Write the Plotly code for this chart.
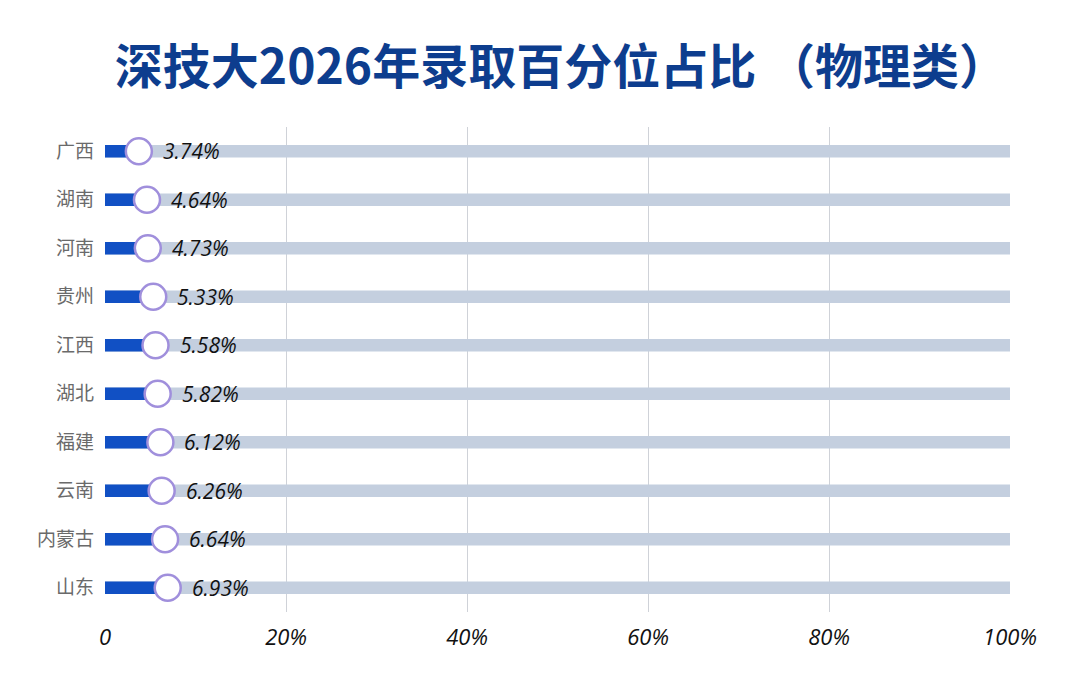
"""
深技大2026年录取百分位占比（物理类）- horizontal progress-style bar chart.
"""
import plotly.graph_objects as go

provinces = ["广西", "湖南", "河南", "贵州", "江西", "湖北", "福建", "云南", "内蒙古", "山东"]
percentiles = [3.74, 4.64, 4.73, 5.33, 5.58, 5.82, 6.12, 6.26, 6.64, 6.93]
full_scale = [100] * len(provinces)

tick_vals = [0, 20, 40, 60, 80, 100]
tick_text = ["0", "20%", "40%", "60%", "80%", "100%"]

BLUE = "#1150c4"
TRACK = "#c4cfdf"
TITLE_BLUE = "#0d3d8e"
RING = "#a08fdc"

fig = go.Figure()

# grey track behind each bar
fig.add_trace(go.Bar(
    y=provinces, x=full_scale, orientation="h", width=0.26,
    marker=dict(color=TRACK, line=dict(width=0)), hoverinfo="skip",
))

# blue progress bar
fig.add_trace(go.Bar(
    y=provinces, x=percentiles, orientation="h", width=0.26,
    marker=dict(color=BLUE, line=dict(width=0)),
))

# knob at the end of each bar
fig.add_trace(go.Scatter(
    y=provinces, x=percentiles, mode="markers",
    marker=dict(size=26, color="white", line=dict(color=RING, width=2.5)),
))

# value labels
for p, v in zip(provinces, percentiles):
    fig.add_annotation(
        x=v, y=p, text=f"{v:.2f}%", showarrow=False,
        xanchor="left", xshift=22,
        font=dict(family="Open Sans, DejaVu Sans", size=21, color="#111111", style="italic"),
    )

fig.update_layout(
    width=1080, height=692,
    barmode="overlay",
    showlegend=False,
    plot_bgcolor="white",
    paper_bgcolor="white",
    margin=dict(l=97, r=78, t=119, b=88),
    title=dict(
        text="<b>深技大2026年录取百分位占比 （物理类）</b>",
        x=0.512, xanchor="center", y=0.915, yanchor="middle",
        font=dict(family="Noto Sans CJK SC", size=48, color=TITLE_BLUE),
    ),
    xaxis=dict(
        range=[0, 100], tickvals=tick_vals, ticktext=tick_text,
        showgrid=True, gridcolor="#cfd2d8", gridwidth=1,
        zeroline=False, showline=False, ticks="",
        ticklabelstandoff=10,
        tickfont=dict(family="Open Sans, DejaVu Sans", size=22, color="#111111", style="italic"),
    ),
    yaxis=dict(
        categoryorder="array", categoryarray=provinces,
        range=[len(provinces) - 0.5, -0.5],
        showgrid=False, zeroline=False, showline=False, ticks="",
        ticklabelstandoff=10,
        tickfont=dict(family="Noto Sans CJK SC", size=19, color="#6a6a6a"),
    ),
)

fig.write_html("out.html")
